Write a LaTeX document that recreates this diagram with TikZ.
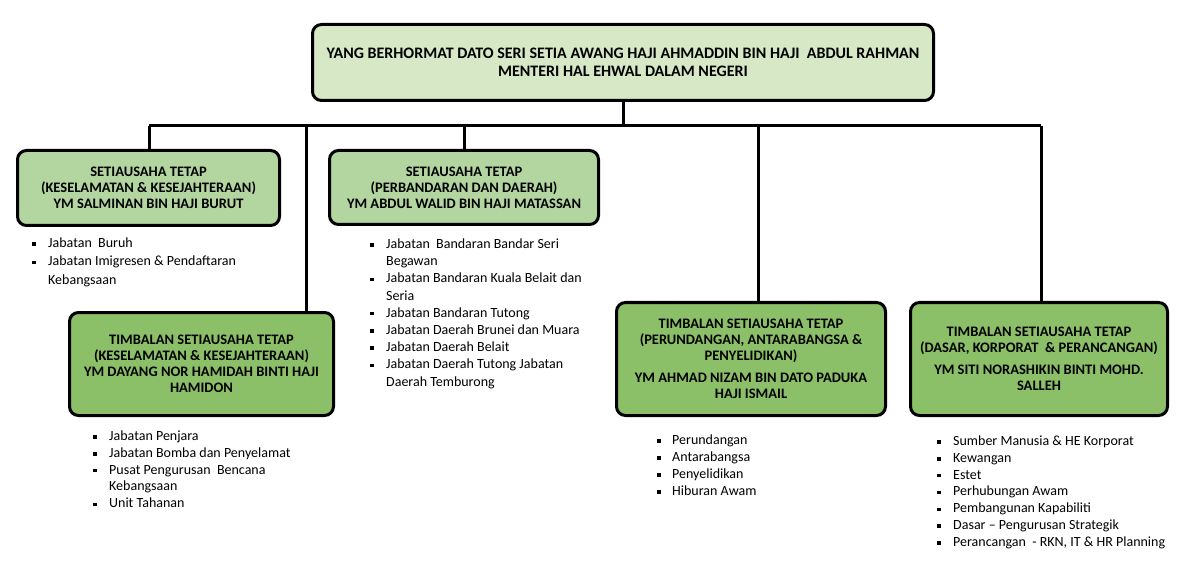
\documentclass[tikz,border=0pt]{standalone}
\usepackage{fontspec}
\setmainfont{Carlito}
\definecolor{hijaumuda}{HTML}{D6E8C6}
\definecolor{hijau}{HTML}{B3D6A0}
\definecolor{hijautua}{HTML}{8CC068}
\newcommand{\bul}{\rule[1.8pt]{3.4pt}{3.4pt}}

\begin{document}
\begin{tikzpicture}[x=1pt, y=-1pt,
		kotak/.style={draw, line width=3pt, rounded corners=9pt, align=center, inner sep=0pt, font=\fontsize{14.5}{16}\selectfont\bfseries},
		senarai/.style={anchor=base west, inner sep=0pt, font=\fontsize{14}{17}\selectfont},
		garis/.style={line width=3pt}]
	\useasboundingbox (0,0) rectangle (1191,577);
	
	\node[kotak, fill=hijaumuda, minimum width=621pt, minimum height=76pt, font=\fontsize{16}{17.5}\selectfont\bfseries] (menteri) at (623,62.5) {YANG BERHORMAT DATO SERI SETIA AWANG HAJI AHMADDIN BIN HAJI\ \ ABDUL RAHMAN\\MENTERI HAL EHWAL DALAM NEGERI};
	\node[kotak, fill=hijau, minimum width=262pt, minimum height=75pt] (st1) at (148.5,188) {SETIAUSAHA TETAP\\(KESELAMATAN \& KESEJAHTERAAN)\\YM SALMINAN BIN HAJI BURUT};
	\node[kotak, fill=hijau, minimum width=269pt, minimum height=74pt] (st2) at (464,187.5) {SETIAUSAHA TETAP\\(PERBANDARAN DAN DAERAH)\\YM ABDUL WALID BIN HAJI MATASSAN};
	\node[kotak, fill=hijautua, minimum width=264pt, minimum height=103pt] (ts1) at (201.5,364) {TIMBALAN SETIAUSAHA TETAP\\(KESELAMATAN \& KESEJAHTERAAN)\\YM DAYANG NOR HAMIDAH BINTI HAJI\\HAMIDON};
	\node[kotak, fill=hijautua, minimum width=269pt, minimum height=113pt] (ts2) at (751,359) {TIMBALAN SETIAUSAHA TETAP\\(PERUNDANGAN, ANTARABANGSA \&\\PENYELIDIKAN)\\[6pt]YM AHMAD NIZAM BIN DATO PADUKA\\HAJI ISMAIL};
	\node[kotak, fill=hijautua, minimum width=257pt, minimum height=113pt] (ts3) at (1039,359) {TIMBALAN SETIAUSAHA TETAP\\(DASAR, KORPORAT\ \ \& PERANCANGAN)\\[6pt]YM SITI NORASHIKIN BINTI MOHD.\\SALLEH};
	
	% senarai jabatan
	\node[senarai, font=\fontsize{14}{18.5}\selectfont] (senarai1) at (32,247.5) {\begin{tabular}[t]{@{}p{16pt}@{}l@{}}
		\bul & Jabatan\ \ Buruh\\
		\bul & Jabatan Imigresen \& Pendaftaran\\
		& Kebangsaan
	\end{tabular}};
	\node[senarai, font=\fontsize{14}{17.2}\selectfont] (senarai2) at (370,248.5) {\begin{tabular}[t]{@{}p{16pt}@{}l@{}}
		\bul & Jabatan\ \ Bandaran Bandar Seri\\
		& Begawan\\
		\bul & Jabatan Bandaran Kuala Belait dan\\
		& Seria\\
		\bul & Jabatan Bandaran Tutong\\
		\bul & Jabatan Daerah Brunei dan Muara\\
		\bul & Jabatan Daerah Belait\\
		\bul & Jabatan Daerah Tutong Jabatan\\
		& Daerah Temburong
	\end{tabular}};
	\node[senarai, font=\fontsize{14}{16.8}\selectfont] (senarai3) at (93,440.5) {\begin{tabular}[t]{@{}p{16pt}@{}l@{}}
		\bul & Jabatan Penjara\\
		\bul & Jabatan Bomba dan Penyelamat\\
		\bul & Pusat Pengurusan\ \ Bencana\\
		& Kebangsaan\\
		\bul & Unit Tahanan
	\end{tabular}};
	\node[senarai] (senarai4) at (657,444.5) {\begin{tabular}[t]{@{}p{15pt}@{}l@{}}
		\bul & Perundangan\\
		\bul & Antarabangsa\\
		\bul & Penyelidikan\\
		\bul & Hiburan Awam
	\end{tabular}};
	\node[senarai, font=\fontsize{14}{16.8}\selectfont] (senarai5) at (937,445.5) {\begin{tabular}[t]{@{}p{16pt}@{}l@{}}
		\bul & Sumber Manusia \& HE Korporat\\
		\bul & Kewangan\\
		\bul & Estet\\
		\bul & Perhubungan Awam\\
		\bul & Pembangunan Kapabiliti\\
		\bul & Dasar -- Pengurusan Strategik\\
		\bul & Perancangan\ \ - RKN, IT \& HR Planning
	\end{tabular}};
	
	% garis penghubung
	\coordinate (kiri) at (149,126);
	\coordinate (kanan) at (1041,126);
	\coordinate (cab1) at (306,126);
	\coordinate (cab2) at (758,126);
	\draw[garis] (kiri) -- (kanan);
	\draw[garis] (menteri.south) -- (menteri.south |- kiri);
	\draw[garis] (kiri) -- (kiri |- st1.north);
	\draw[garis] (cab1) -- (cab1 |- ts1.north);
	\draw[garis] (st2.north |- kiri) -- (st2.north);
	\draw[garis] (cab2) -- (cab2 |- ts2.north);
	\draw[garis] (kanan) -- (kanan |- ts3.north);
	
\end{tikzpicture}
\end{document}
